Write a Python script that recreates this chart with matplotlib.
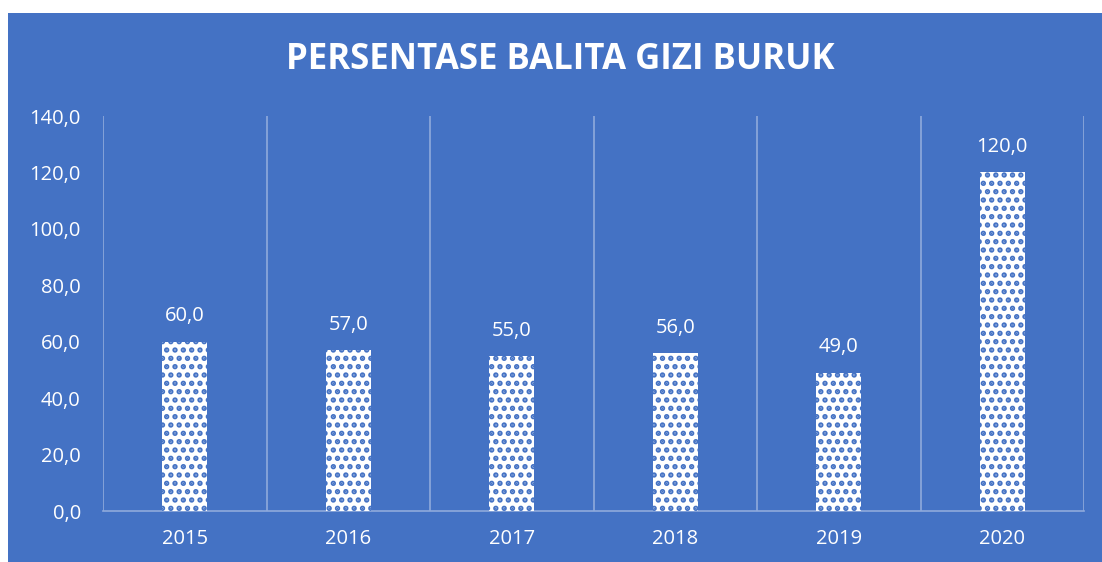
import matplotlib.pyplot as plt
from matplotlib.patches import Rectangle

years = ['2015', '2016', '2017', '2018', '2019', '2020']
values = [60.0, 57.0, 55.0, 56.0, 49.0, 120.0]
yticks = [0, 20, 40, 60, 80, 100, 120, 140]

blue = '#4472C4'
grid = '#8FAADC'

plt.rcParams['hatch.color'] = blue
plt.rcParams['hatch.linewidth'] = 2.6

fig = plt.figure(figsize=(11.02, 5.62), dpi=100)
fig.patch.set_facecolor('white')
fig.patches.append(Rectangle((8 / 1102, 0), 1 - 8 / 1102, 1 - 13 / 562,
                             transform=fig.transFigure, facecolor=blue,
                             edgecolor='none', zorder=-10))

ax = fig.add_axes([103 / 1102, 51 / 562, 981 / 1102, 395 / 562])
ax.set_facecolor('none')

x = range(len(years))
ax.bar(x, values, width=0.275, color='white', edgecolor=blue, hatch='..',
       linewidth=0, zorder=3)

for i, v in enumerate(values):
    ax.annotate(f'{v:.1f}'.replace('.', ','), (i, v), xytext=(0, 11),
                textcoords='offset points', ha='center', va='bottom',
                color='white', fontsize=14.5, fontfamily='Open Sans')

ax.set_xlim(-0.5, len(years) - 0.5)
ax.set_ylim(0, 140)
ax.set_yticks(yticks)
ax.set_yticklabels([f'{t:.1f}'.replace('.', ',') for t in yticks])
ax.set_xticks(list(x))
ax.set_xticklabels(years)

for b in [i + 0.5 for i in range(-1, len(years))]:
    ax.axvline(b, color=grid, linewidth=1.2, zorder=1)

for s in ['top', 'right', 'left']:
    ax.spines[s].set_visible(False)
ax.spines['bottom'].set_color(grid)
ax.spines['bottom'].set_linewidth(1.2)

ax.tick_params(axis='both', length=0, colors='white', labelsize=14.5)
ax.tick_params(axis='y', pad=16)
ax.tick_params(axis='x', pad=13)
for lab in ax.get_xticklabels() + ax.get_yticklabels():
    lab.set_fontfamily('Open Sans')

fig.text(560 / 1102, 1 - 60 / 562, 'PERSENTASE BALITA GIZI BURUK',
         ha='center', va='center', color='white', fontsize=25,
         fontweight='bold', fontfamily='Open Sans')

fig.savefig('out.png', dpi=100)
